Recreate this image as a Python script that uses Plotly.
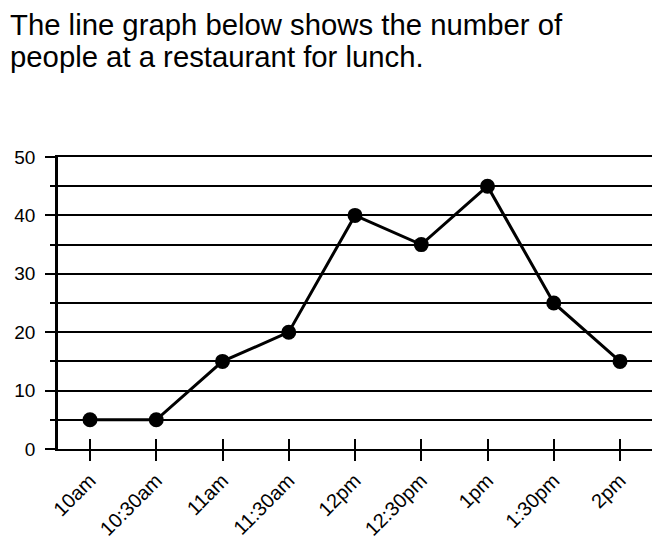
import plotly.graph_objects as go

# lunch crowd, counted every half hour
times = ["10am", "10:30am", "11am", "11:30am", "12pm", "12:30pm", "1pm", "1:30pm", "2pm"]
people = [5, 5, 15, 20, 40, 35, 45, 25, 15]
y_ticks = [0, 10, 20, 30, 40, 50]
title_lines = ["The line graph below shows the number of", "people at a restaurant for lunch."]

FONT = "Liberation Sans, Arial, sans-serif"

# page is drawn with an 8px body margin, so the figure is 8px smaller
W, H = 660, 548
L, R, T, B = 50, 16, 149, 107
plot_h = H - T - B
plot_w = W - L - R

fig = go.Figure()
fig.add_trace(go.Scatter(
    x=times, y=people, mode="lines+markers",
    line=dict(color="black", width=3),
    marker=dict(color="black", size=15),
    showlegend=False,
))
# invisible copy so the second axis draws the upper half of each tick mark
fig.add_trace(go.Scatter(
    x=times, y=people, mode="lines", xaxis="x2",
    line=dict(color="rgba(0,0,0,0)"), hoverinfo="skip", showlegend=False,
))

# title as two lines with tighter spacing than plotly's <br>
for line, mid in zip(title_lines, [16, 48]):
    fig.add_annotation(
        text=line, showarrow=False,
        xref="paper", yref="paper",
        x=(0 - L) / plot_w, xanchor="left",
        y=(H - B - mid) / plot_h, yanchor="middle",
        font=dict(size=29.3, family=FONT, color="black"),
    )

fig.update_layout(
    width=W, height=H,
    margin=dict(l=L, r=R, t=T, b=B),
    paper_bgcolor="white", plot_bgcolor="white",
    font=dict(family=FONT, color="black"),
    xaxis=dict(
        type="category", categoryarray=times, range=[-0.483, 8.483],
        showgrid=False, zeroline=False, automargin=False,
        showline=True, mirror=True, linecolor="black", linewidth=2,
        ticks="outside", ticklen=10, tickwidth=2, tickcolor="black",
        tickangle=-45, tickfont=dict(size=20, family=FONT),
    ),
    xaxis2=dict(
        type="category", categoryarray=times, range=[-0.483, 8.483],
        overlaying="x", anchor="y", side="bottom",
        showgrid=False, zeroline=False, showline=False,
        ticks="inside", ticklen=10, tickwidth=2, tickcolor="black",
        showticklabels=False,
    ),
    yaxis=dict(
        range=[0, 50], tickvals=y_ticks, zeroline=False, automargin=False,
        showgrid=True, gridcolor="black", gridwidth=1.8,
        showline=True, linecolor="black", linewidth=2.5,
        ticks="outside", ticklen=10, tickwidth=1.8, tickcolor="black",
        ticklabelstandoff=6,
        tickfont=dict(size=19, family=FONT),
        minor=dict(dtick=5, ticks="outside", ticklen=5, tickwidth=1.8, tickcolor="black",
                   showgrid=True, gridcolor="black", gridwidth=1.8),
    ),
)

fig.write_html("out.html")
